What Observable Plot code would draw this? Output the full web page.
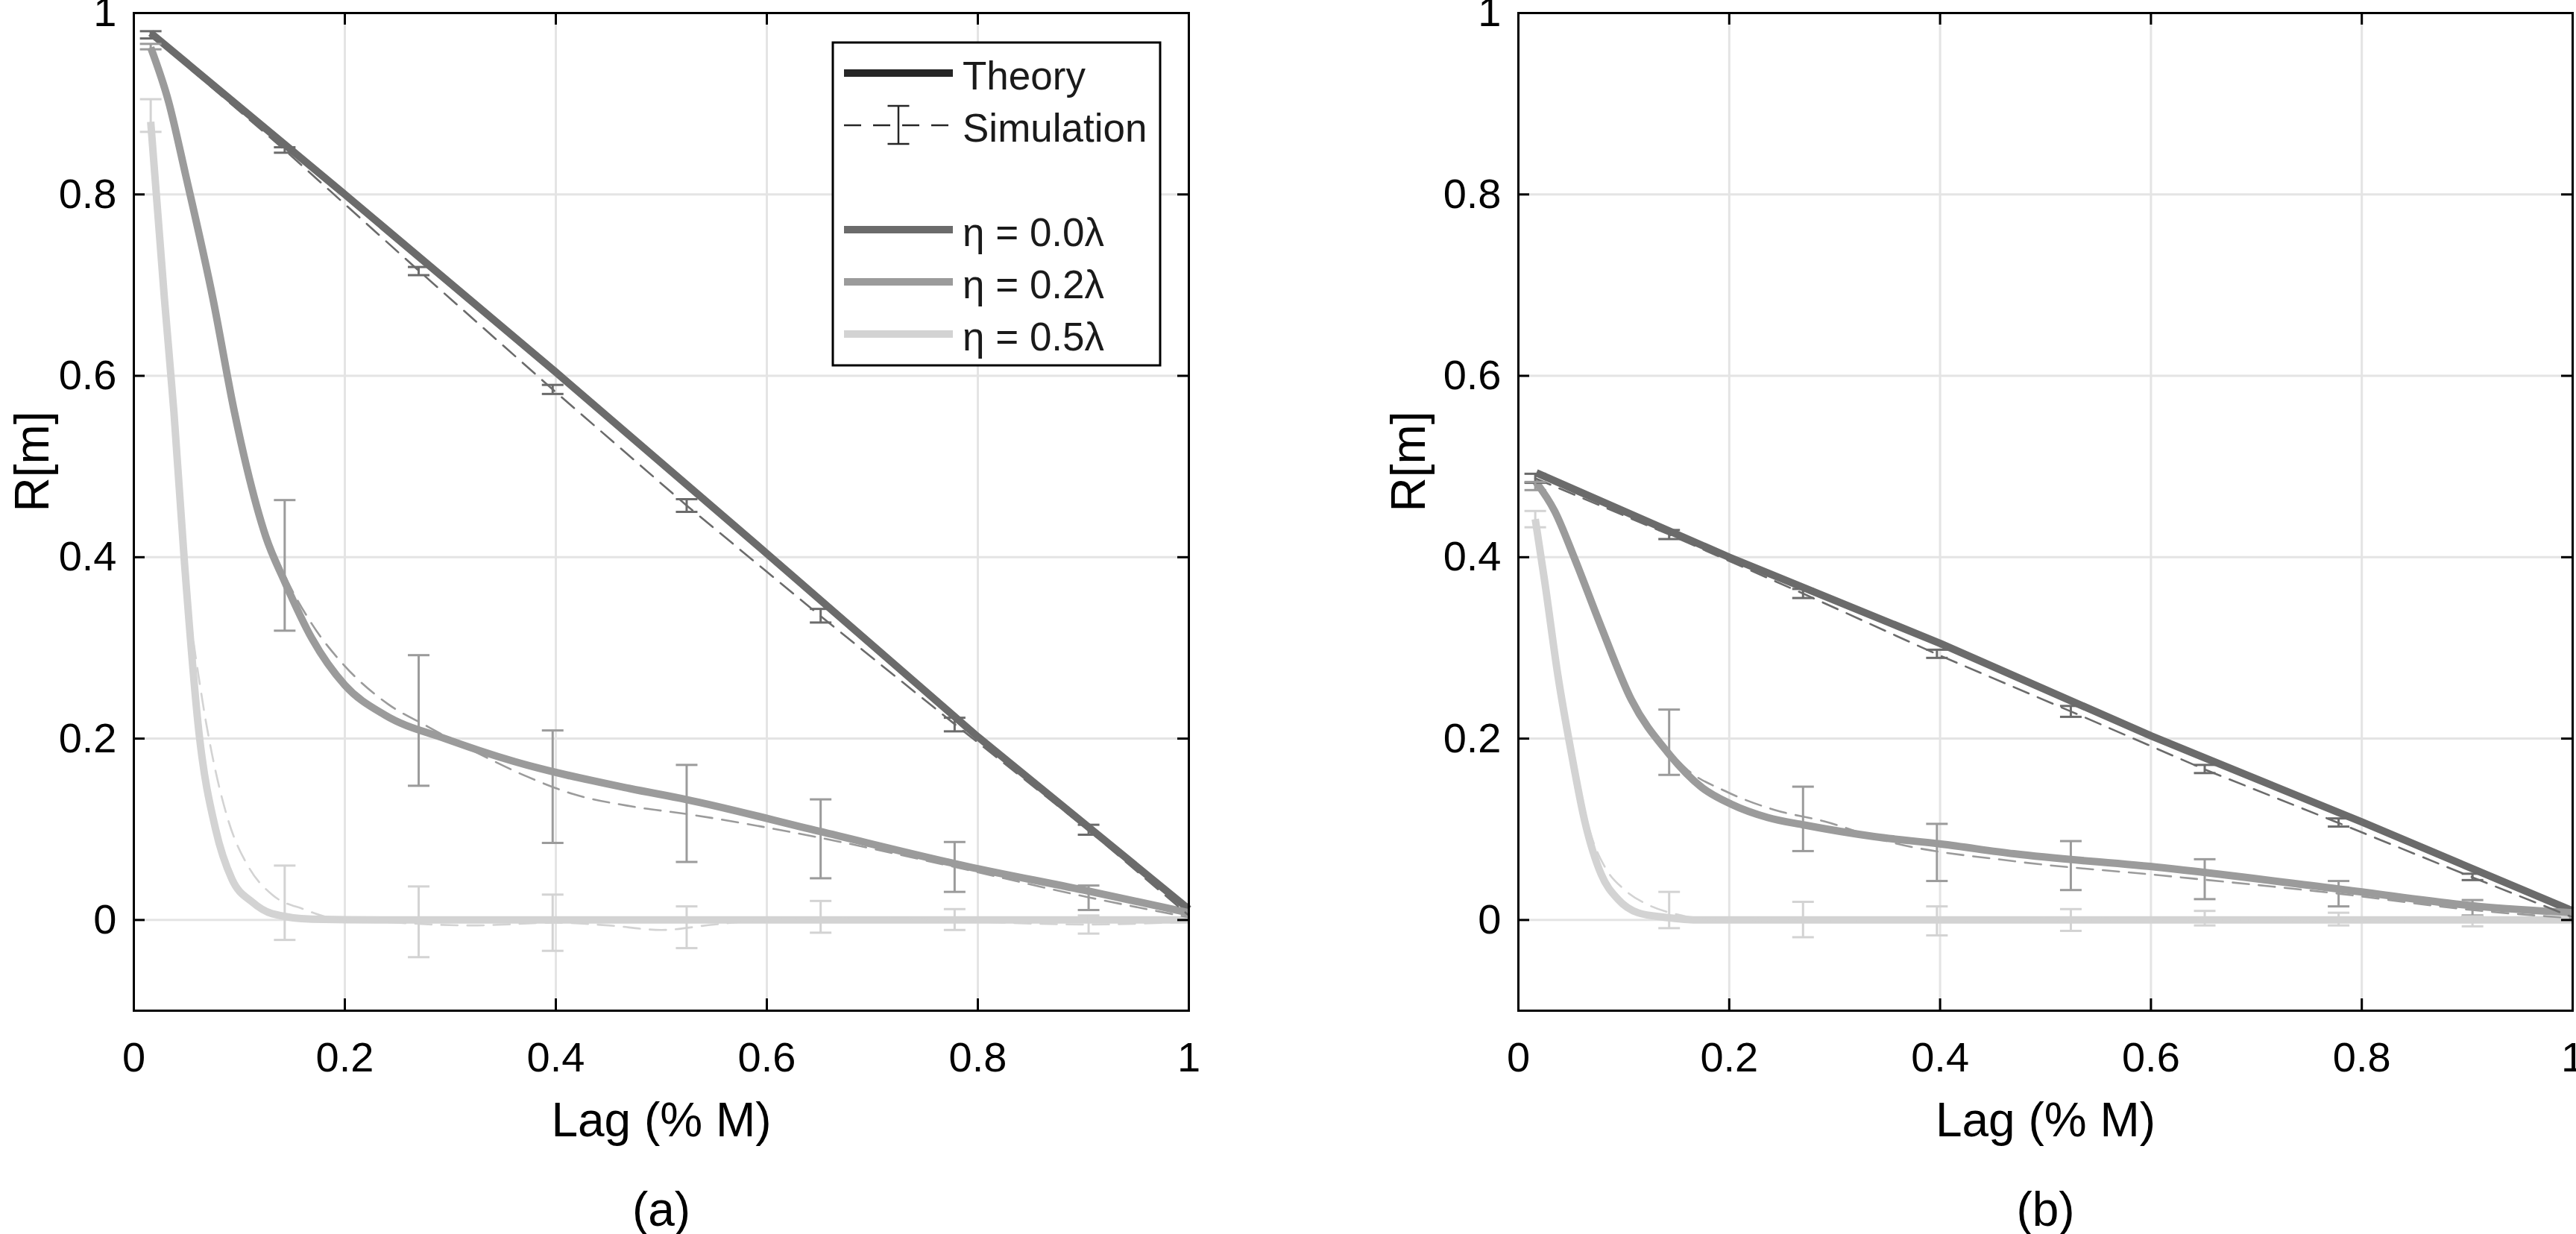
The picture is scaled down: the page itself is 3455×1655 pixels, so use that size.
<!DOCTYPE html>
<html><head><meta charset="utf-8">
<script src="https://cdn.jsdelivr.net/npm/d3@7"></script>
<script src="https://cdn.jsdelivr.net/npm/@observablehq/plot@0.6"></script>
<style>
html,body{margin:0;padding:0;background:#fff;}
#fig{position:relative;width:3455px;height:1655px;overflow:hidden;background:#fff;font-family:"Liberation Sans",Arial,Helvetica,sans-serif;}
.panel{position:absolute;top:0;}
#legend{position:absolute;left:1100px;top:40px;}
</style></head>
<body><div id="fig"></div>
<script>
// ---------- tick values / labels ----------
const xTicks = [0, 0.2, 0.4, 0.6, 0.8, 1];
const yTicks = [0, 0.2, 0.4, 0.6, 0.8, 1];
const xLabel = "Lag (% M)";
const yLabel = "R[m]";
const panelLetters = ["(a)", "(b)"];
const etaNames = ["η = 0.0λ", "η = 0.2λ", "η = 0.5λ"];
const etaColors = ["#6b6b6b", "#9b9b9b", "#d3d3d3"];

// simulation lags where error bars are drawn
const barX = [0.016, 0.143, 0.27, 0.397, 0.524, 0.651, 0.778, 0.905];

// ---------- panel (a) ----------
const thA0 = [[0.016,0.978],[0.2,0.8],[0.4,0.604],[0.6,0.404],[0.8,0.202],[1.0,0.012]];
const thA2 = [[0.016,0.962],[0.033,0.902],[0.049,0.822],[0.075,0.685],[0.095,0.562],[0.107,0.499],[0.125,0.423],[0.143,0.373],[0.169,0.31],[0.2,0.259],[0.238,0.226],[0.295,0.2],[0.36,0.175],[0.47,0.145],[0.523,0.133],[0.649,0.098],[0.79,0.059],[0.9,0.033],[1.0,0.008]];
const thA5 = [[0.016,0.88],[0.029,0.685],[0.038,0.56],[0.048,0.394],[0.062,0.204],[0.0775,0.1],[0.093,0.045],[0.112,0.02],[0.131,0.007],[0.169,0.001],[0.25,0],[0.5,0],[1.0,0]];

const simA0 = [[0.016,0.976],[0.143,0.849],[0.27,0.716],[0.397,0.585],[0.524,0.457],[0.651,0.335],[0.778,0.216],[0.905,0.099],[1.0,0.005]];
const simA2 = [[0.016,0.962],[0.033,0.902],[0.049,0.822],[0.075,0.685],[0.095,0.562],[0.125,0.43],[0.143,0.38],[0.169,0.326],[0.2,0.28],[0.241,0.238],[0.279,0.213],[0.326,0.184],[0.373,0.158],[0.416,0.139],[0.473,0.125],[0.523,0.117],[0.649,0.091],[0.772,0.06],[0.905,0.025],[1.0,0.003]];
const simA5 = [[0.016,0.88],[0.029,0.69],[0.038,0.565],[0.048,0.4],[0.065,0.242],[0.074,0.1835],[0.09,0.108],[0.109,0.058],[0.131,0.028],[0.162,0.0115],[0.188,0.002],[0.25,-0.003],[0.32,-0.006],[0.4,-0.003],[0.45,-0.006],[0.5,-0.011],[0.55,-0.005],[0.6,0],[0.7,0.002],[0.8,-0.002],[0.9,-0.005],[1.0,-0.002]];

const barA0lo = [0.972,0.846,0.711,0.580,0.450,0.328,0.208,0.094];
const barA0hi = [0.980,0.852,0.720,0.590,0.464,0.343,0.223,0.105];
const barA2lo = [0.960,0.319,0.148,0.085,0.064,0.046,0.031,0.011];
const barA2hi = [0.966,0.463,0.292,0.209,0.171,0.133,0.086,0.038];
const barA5lo = [0.869,-0.022,-0.041,-0.034,-0.031,-0.014,-0.011,-0.015];
const barA5hi = [0.905,0.060,0.037,0.028,0.015,0.021,0.012,0.005];

// ---------- panel (b) ----------
const thB0 = [[0.017,0.493],[0.2,0.4],[0.4,0.305],[0.6,0.203],[0.8,0.108],[1.0,0.01]];
const thB2 = [[0.016,0.484],[0.0345,0.4506],[0.0535,0.398],[0.0787,0.3227],[0.1071,0.243],[0.1419,0.1844],[0.1735,0.1466],[0.2018,0.1277],[0.2366,0.1129],[0.2713,0.1047],[0.3375,0.092],[0.4008,0.0837],[0.47,0.073],[0.611,0.0576],[0.786,0.033],[0.911,0.015],[1.0,0.008]];
const thB5 = [[0.016,0.442],[0.025,0.373],[0.0377,0.268],[0.0502,0.1844],[0.063,0.1088],[0.0787,0.05],[0.0945,0.0228],[0.1134,0.008],[0.1386,0.003],[0.1745,0],[0.5,0],[1.0,0]];

const simB0 = [[0.016,0.487],[0.143,0.425],[0.27,0.36],[0.397,0.293],[0.524,0.23],[0.651,0.166],[0.778,0.107],[0.905,0.047],[1.0,0.003]];
const simB2 = [[0.016,0.479],[0.0345,0.45],[0.0535,0.398],[0.0787,0.323],[0.107,0.245],[0.1419,0.188],[0.161,0.165],[0.1955,0.1425],[0.243,0.1214],[0.29,0.1088],[0.3534,0.0858],[0.47,0.0648],[0.611,0.049],[0.778,0.029],[0.905,0.011],[1.0,0.002]];
const simB5 = [[0.016,0.442],[0.025,0.373],[0.0377,0.268],[0.0502,0.188],[0.0693,0.092],[0.0819,0.0587],[0.1008,0.0332],[0.1229,0.0168],[0.151,0.006],[0.177,0.001],[0.3,-0.001],[0.6,0],[1.0,-0.002]];

const barB0lo = [0.482,0.420,0.355,0.289,0.224,0.162,0.103,0.044];
const barB0hi = [0.492,0.430,0.365,0.298,0.236,0.171,0.112,0.051];
const barB2lo = [0.474,0.160,0.076,0.043,0.033,0.023,0.015,0.005];
const barB2hi = [0.483,0.232,0.147,0.106,0.087,0.067,0.043,0.022];
const barB5lo = [0.433,-0.009,-0.019,-0.017,-0.012,-0.006,-0.006,-0.007];
const barB5hi = [0.451,0.031,0.020,0.015,0.012,0.010,0.008,0.004];

// ---------- build tables ----------
const toRows = (pts) => pts.map(([x, y]) => ({x, y}));
const toBars = (lo, hi) => barX.map((x, i) => ({x, lo: lo[i], hi: hi[i]}));

const panels = [
  {theory: [thA0, thA2, thA5], sim: [simA0, simA2, simA5],
   bars: [toBars(barA0lo, barA0hi), toBars(barA2lo, barA2hi), toBars(barA5lo, barA5hi)],
   left: 0, width: 1600, marginLeft: 179, marginRight: 6, ylabDx: -135, letter: panelLetters[0]},
  {theory: [thB0, thB2, thB5], sim: [simB0, simB2, simB5],
   bars: [toBars(barB0lo, barB0hi), toBars(barB2lo, barB2hi), toBars(barB5lo, barB5hi)],
   left: 1700, width: 1755, marginLeft: 336, marginRight: 5, ylabDx: -146, letter: panelLetters[1]}
];

const FONT = '"Liberation Sans", Arial, Helvetica, sans-serif';
const GRID = "#e4e4e4";
const H = 1655, MT = 17, MB = 300;
const hbar = {draw(ctx, size) { const r = Math.sqrt(size / Math.PI); ctx.moveTo(-r, 0); ctx.lineTo(r, 0); }};
const fmt = d => String(d);

function makePanel(p) {
  const fw = p.width - p.marginLeft - p.marginRight;
  const fh = H - MT - MB;
  const marks = [
    Plot.gridX(xTicks, {stroke: GRID, strokeOpacity: 1, strokeWidth: 3}),
    Plot.gridY(yTicks, {stroke: GRID, strokeOpacity: 1, strokeWidth: 3})
  ];
  p.theory.forEach((pts, i) => {
    marks.push(Plot.line(toRows(pts), {x: "x", y: "y", stroke: etaColors[i], strokeWidth: 10, curve: i === 0 ? "linear" : "monotone-x", strokeLinecap: "butt", strokeLinejoin: "round"}));
  });
  p.sim.forEach((pts, i) => {
    marks.push(Plot.line(toRows(pts), {x: "x", y: "y", stroke: etaColors[i], strokeWidth: 2.6, strokeDasharray: "22,13", curve: i === 0 ? "linear" : "monotone-x"}));
  });
  p.bars.forEach((rows, i) => {
    marks.push(Plot.ruleX(rows, {x: "x", y1: "lo", y2: "hi", stroke: etaColors[i], strokeWidth: 3}));
    marks.push(Plot.dot(rows, {x: "x", y: "lo", symbol: hbar, r: 14.5, stroke: etaColors[i], strokeWidth: 3, fill: "none"}));
    marks.push(Plot.dot(rows, {x: "x", y: "hi", symbol: hbar, r: 14.5, stroke: etaColors[i], strokeWidth: 3, fill: "none"}));
  });
  marks.push(
    Plot.frame({stroke: "black", strokeWidth: 3}),
    Plot.tickX(xTicks, {x: d => d, insetTop: fh - 16, stroke: "black", strokeWidth: 3}),
    Plot.tickX(xTicks, {x: d => d, insetBottom: fh - 16, stroke: "black", strokeWidth: 3}),
    Plot.tickY(yTicks, {y: d => d, insetRight: fw - 15, stroke: "black", strokeWidth: 3}),
    Plot.tickY(yTicks, {y: d => d, insetLeft: fw - 15, stroke: "black", strokeWidth: 3}),
    Plot.axisX(xTicks, {tickSize: 0, tickPadding: 42, tickFormat: fmt, label: null, fontSize: 56, fill: "black"}),
    Plot.axisY(yTicks, {tickSize: 0, tickPadding: 23, tickFormat: fmt, label: null, fontSize: 56, fill: "black"}),
    Plot.text([xLabel], {text: d => d, frameAnchor: "bottom", dy: 168, lineAnchor: "bottom", fontSize: 64, fill: "black"}),
    Plot.text([p.letter], {text: d => d, frameAnchor: "bottom", dy: 288, lineAnchor: "bottom", fontSize: 64, fill: "black"}),
    Plot.text([yLabel], {text: d => d, frameAnchor: "left", dx: p.ylabDx, rotate: -90, lineAnchor: "middle", fontSize: 64, fill: "black"})
  );
  const svg = Plot.plot({
    width: p.width, height: H,
    marginLeft: p.marginLeft, marginRight: p.marginRight, marginTop: MT, marginBottom: MB,
    x: {domain: [0, 1]},
    y: {domain: [-0.1, 1]},
    style: {fontFamily: FONT, fontSize: "56px", color: "black", background: "transparent", overflow: "visible"},
    marks
  });
  svg.classList.add("panel");
  svg.style.left = p.left + "px";
  return svg;
}

const fig = document.getElementById("fig");
panels.forEach(p => fig.appendChild(makePanel(p)));

// ---------- legend (inside panel a) ----------
const lg = d3.create("svg").attr("id", "legend").attr("width", 480).attr("height", 470)
  .style("font-family", FONT);
lg.append("rect").attr("x", 17).attr("y", 17).attr("width", 439).attr("height", 433)
  .attr("fill", "white").attr("stroke", "black").attr("stroke-width", 3);
lg.append("line").attr("x1", 32).attr("x2", 178).attr("y1", 58).attr("y2", 58)
  .attr("stroke", "#262626").attr("stroke-width", 10);
lg.append("text").attr("x", 191).attr("y", 80).attr("font-size", 53).attr("fill", "#1a1a1a").text("Theory");
lg.append("line").attr("x1", 32).attr("x2", 178).attr("y1", 128).attr("y2", 128)
  .attr("stroke", "#262626").attr("stroke-width", 2.5).attr("stroke-dasharray", "23,16");
lg.append("line").attr("x1", 105).attr("x2", 105).attr("y1", 102).attr("y2", 153)
  .attr("stroke", "#262626").attr("stroke-width", 2.5);
[102, 153].forEach(y => lg.append("line").attr("x1", 90.5).attr("x2", 119.5).attr("y1", y).attr("y2", y)
  .attr("stroke", "#262626").attr("stroke-width", 2.5));
lg.append("text").attr("x", 191).attr("y", 150).attr("font-size", 53).attr("fill", "#1a1a1a").text("Simulation");
etaNames.forEach((name, i) => {
  const y = 268 + 70 * i;
  lg.append("line").attr("x1", 32).attr("x2", 178).attr("y1", y).attr("y2", y)
    .attr("stroke", etaColors[i]).attr("stroke-width", 10);
  lg.append("text").attr("x", 191).attr("y", y + 22).attr("font-size", 53).attr("fill", "#1a1a1a").text(name);
});
fig.appendChild(lg.node());
</script>
</body></html>
